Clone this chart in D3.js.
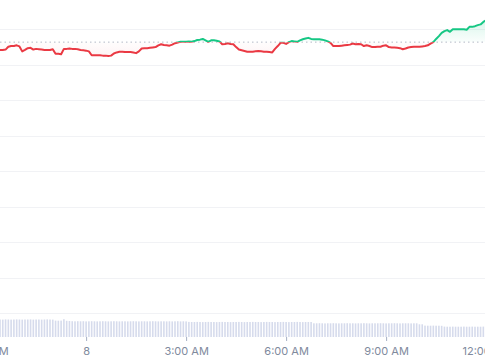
<!DOCTYPE html>
<html>
<head>
<meta charset="utf-8">
<script src="https://cdn.jsdelivr.net/npm/d3@7"></script>
<style>
  body { margin: 0; background: #fff; }
  svg { display: block; font-family: Inter, "Noto Sans", sans-serif; }
</style>
</head>
<body>
<div id="chart"></div>
<script>
// price every 5 minutes, starting 7th 21:25
var startTime = new Date(2024, 0, 7, 21, 25);
var endTime = new Date(2024, 0, 8, 11, 58);
var openPrice = 100.63;

var prices = [
  100.41, 100.41, 100.42, 100.50, 100.52, 100.52, 100.54, 100.51, 100.37, 100.41,
  100.46, 100.47, 100.42, 100.44, 100.43, 100.42, 100.41, 100.41, 100.41, 100.43,
  100.30, 100.30, 100.29, 100.44, 100.44, 100.45, 100.44, 100.44, 100.43, 100.41,
  100.40, 100.39, 100.37, 100.26, 100.26, 100.26, 100.26, 100.25, 100.25, 100.24,
  100.25, 100.31, 100.34, 100.36, 100.36, 100.35, 100.35, 100.35, 100.34, 100.32,
  100.37, 100.45, 100.46, 100.46, 100.47, 100.48, 100.49, 100.54, 100.57, 100.55,
  100.54, 100.53, 100.56, 100.60, 100.62, 100.64, 100.64, 100.64, 100.65, 100.64,
  100.66, 100.69, 100.70, 100.72, 100.68, 100.64, 100.68, 100.68, 100.67, 100.65,
  100.57, 100.58, 100.60, 100.58, 100.57, 100.49, 100.42, 100.40, 100.38, 100.36,
  100.36, 100.36, 100.37, 100.38, 100.37, 100.36, 100.36, 100.35, 100.34, 100.44,
  100.52, 100.61, 100.61, 100.58, 100.63, 100.66, 100.65, 100.64, 100.68, 100.71,
  100.73, 100.75, 100.72, 100.71, 100.71, 100.71, 100.70, 100.68, 100.65, 100.61,
  100.52, 100.52, 100.52, 100.53, 100.54, 100.55, 100.56, 100.59, 100.57, 100.58,
  100.57, 100.52, 100.54, 100.52, 100.49, 100.49, 100.50, 100.50, 100.53, 100.54,
  100.49, 100.48, 100.48, 100.47, 100.46, 100.43, 100.45, 100.48, 100.49, 100.50,
  100.50, 100.50, 100.51, 100.52, 100.54, 100.59, 100.63, 100.72, 100.80, 100.89,
  100.94, 100.97, 100.92, 100.99, 100.99, 100.99, 100.99, 100.99, 100.98, 101.06,
  101.06, 101.08, 101.11, 101.13, 101.20, 101.25
];

// volume (millions) for the same 5 minute slots
var volumes = [
  1.75, 1.74, 1.76, 1.75, 1.74, 1.75, 1.76, 1.75, 1.74, 1.75,
  1.75, 1.76, 1.74, 1.75, 1.75, 1.74, 1.75, 1.76, 1.75, 1.74,
  1.64, 1.63, 1.64, 1.78, 1.62, 1.60, 1.58, 1.57, 1.58, 1.57,
  1.58, 1.56, 1.57, 1.58, 1.57, 1.56, 1.57, 1.58, 1.57, 1.56,
  1.57, 1.58, 1.57, 1.56, 1.57, 1.57, 1.56, 1.57, 1.58, 1.57,
  1.56, 1.57, 1.57, 1.56, 1.57, 1.58, 1.57, 1.56, 1.57, 1.57,
  1.56, 1.57, 1.56, 1.57, 1.58, 1.56, 1.57, 1.56, 1.51, 1.50,
  1.50, 1.51, 1.50, 1.49, 1.50, 1.51, 1.50, 1.50, 1.49, 1.50,
  1.51, 1.50, 1.50, 1.49, 1.50, 1.50, 1.51, 1.50, 1.49, 1.50,
  1.50, 1.51, 1.50, 1.50, 1.49, 1.50, 1.51, 1.50, 1.50, 1.49,
  1.50, 1.50, 1.51, 1.50, 1.49, 1.50, 1.50, 1.51, 1.50, 1.49,
  1.50, 1.50, 1.50, 1.37, 1.37, 1.38, 1.37, 1.36, 1.37, 1.37,
  1.38, 1.37, 1.36, 1.37, 1.37, 1.38, 1.37, 1.37, 1.36, 1.37,
  1.37, 1.38, 1.37, 1.36, 1.37, 1.37, 1.37, 1.38, 1.37, 1.36,
  1.37, 1.37, 1.38, 1.37, 1.36, 1.37, 1.37, 1.37, 1.36, 1.37,
  1.37, 1.27, 1.27, 1.14, 1.13, 1.13, 1.14, 1.13, 1.13, 1.12,
  1.04, 1.03, 1.03, 1.04, 1.03, 1.03, 1.03, 1.04, 1.03, 1.03,
  1.04, 1.03, 1.03, 1.03, 1.04, 1.03
];

var priceTicks = [93, 94, 95, 96, 97, 98, 99, 100, 101];
var tickTimes = [
  new Date(2024, 0, 7, 21, 0), new Date(2024, 0, 8, 0, 0), new Date(2024, 0, 8, 3, 0),
  new Date(2024, 0, 8, 6, 0), new Date(2024, 0, 8, 9, 0), new Date(2024, 0, 8, 12, 0)
];
var tickLabels = ["9:00 PM", "8", "3:00 AM", "6:00 AM", "9:00 AM", "12:00 PM"];

var w = 485;
var h = 360;
var volBottom = 337;

var data = prices.map(function (p, i) {
  return { t: d3.timeMinute.offset(startTime, i * 5), p: p, v: volumes[i] };
});

var x = d3.scaleTime().domain([startTime, endTime]).range([0, w]);
var y = d3.scaleLinear().domain([93, 101]).range([313, 29]);
var yv = d3.scaleLinear().domain([0, 2.5]).range([volBottom, 312]);

var svg = d3.select("#chart")
  .append("svg")
  .attr("width", w)
  .attr("height", h);

var defs = svg.append("defs");
var baseY = y(openPrice);

defs.append("clipPath").attr("id", "clipUp")
  .append("rect").attr("x", 0).attr("y", 0).attr("width", w).attr("height", baseY);
defs.append("clipPath").attr("id", "clipDown")
  .append("rect").attr("x", 0).attr("y", baseY).attr("width", w).attr("height", 313 - baseY);

var gUp = defs.append("linearGradient").attr("id", "gradUp")
  .attr("gradientUnits", "userSpaceOnUse")
  .attr("x1", 0).attr("x2", 0).attr("y1", y(101.25)).attr("y2", baseY);
gUp.append("stop").attr("offset", 0).attr("stop-color", "#16c784").attr("stop-opacity", 0.16);
gUp.append("stop").attr("offset", 1).attr("stop-color", "#16c784").attr("stop-opacity", 0.02);

var gDown = defs.append("linearGradient").attr("id", "gradDown")
  .attr("gradientUnits", "userSpaceOnUse")
  .attr("x1", 0).attr("x2", 0).attr("y1", baseY).attr("y2", y(100.2));
gDown.append("stop").attr("offset", 0).attr("stop-color", "#ea3943").attr("stop-opacity", 0.01);
gDown.append("stop").attr("offset", 1).attr("stop-color", "#ea3943").attr("stop-opacity", 0.06);

// grid
svg.append("g")
  .selectAll("line")
  .data(priceTicks)
  .enter()
  .append("line")
  .attr("x1", 0)
  .attr("x2", w)
  .attr("y1", function (d) { return Math.round(y(d)) + 0.5; })
  .attr("y2", function (d) { return Math.round(y(d)) + 0.5; })
  .attr("stroke", "#f1f2f5")
  .attr("stroke-width", 1);

// volume
svg.append("g")
  .selectAll("rect")
  .data(data)
  .enter()
  .append("rect")
  .attr("x", function (d) { return x(d.t) - 0.8; })
  .attr("y", function (d) { return yv(d.v); })
  .attr("width", 1.6)
  .attr("height", function (d) { return volBottom - yv(d.v); })
  .attr("fill", "#d6dbec");

// open price line
svg.append("line")
  .attr("x1", 0)
  .attr("x2", w)
  .attr("y1", baseY)
  .attr("y2", baseY)
  .attr("stroke", "#b4bac6")
  .attr("stroke-width", 1)
  .attr("stroke-dasharray", "1.5,3");

var area = d3.area()
  .x(function (d) { return x(d.t); })
  .y0(baseY)
  .y1(function (d) { return y(d.p); });

var line = d3.line()
  .x(function (d) { return x(d.t); })
  .y(function (d) { return y(d.p); });

svg.append("path").datum(data)
  .attr("d", area).attr("fill", "url(#gradUp)").attr("clip-path", "url(#clipUp)");
svg.append("path").datum(data)
  .attr("d", area).attr("fill", "url(#gradDown)").attr("clip-path", "url(#clipDown)");

svg.append("path").datum(data)
  .attr("d", line)
  .attr("fill", "none")
  .attr("stroke", "#16c784")
  .attr("stroke-width", 2)
  .attr("stroke-linejoin", "round")
  .attr("clip-path", "url(#clipUp)");

svg.append("path").datum(data)
  .attr("d", line)
  .attr("fill", "none")
  .attr("stroke", "#ea3943")
  .attr("stroke-width", 2)
  .attr("stroke-linejoin", "round")
  .attr("clip-path", "url(#clipDown)");

// x axis
var xAxis = d3.axisBottom(x)
  .tickValues(tickTimes)
  .tickFormat(function (d, i) { return tickLabels[i]; })
  .tickSize(4)
  .tickPadding(6);

var gx = svg.append("g")
  .attr("transform", "translate(0," + volBottom + ")")
  .call(xAxis);

gx.select(".domain").remove();
gx.selectAll(".tick line").attr("stroke", "#a6b0c3");
gx.selectAll(".tick text")
  .attr("fill", "#808a9d")
  .style("font-size", "11px")
  .style("font-family", "Inter, 'Noto Sans', sans-serif");
</script>
</body>
</html>
